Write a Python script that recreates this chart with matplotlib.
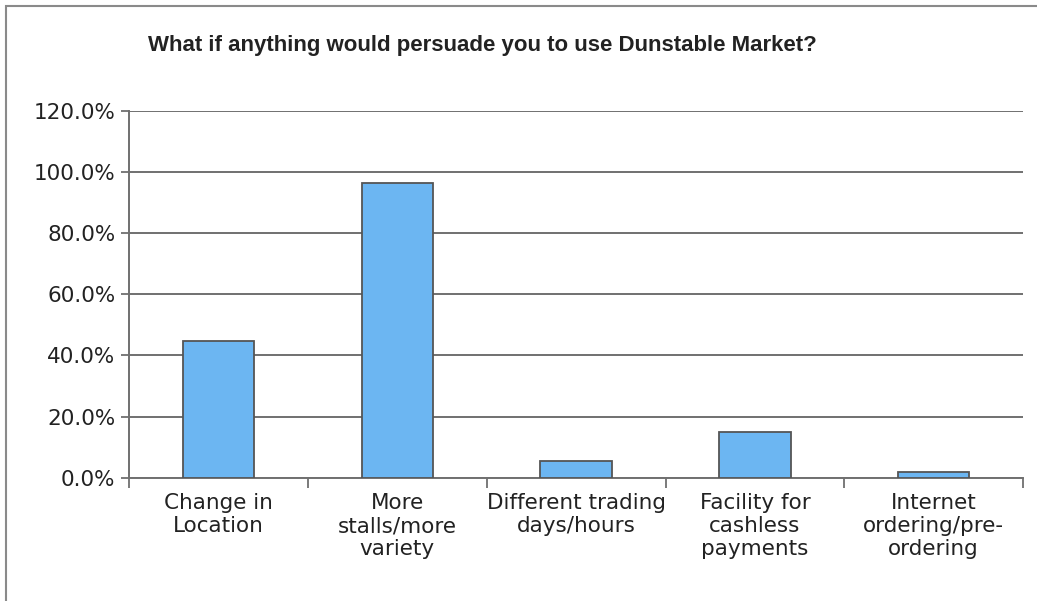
import matplotlib.pyplot as plt
from matplotlib.patches import Rectangle
from matplotlib.ticker import FuncFormatter

categories = ["Change in\nLocation", "More\nstalls/more\nvariety", "Different trading\ndays/hours",
              "Facility for\ncashless\npayments", "Internet\nordering/pre-\nordering"]
values = [44.7, 96.2, 5.5, 14.8, 1.9]
yticks = [0, 20, 40, 60, 80, 100, 120]
title = "What if anything would persuade you to use Dunstable Market?"

fig = plt.figure(figsize=(10.37, 6.01), dpi=100)
fig.patch.set_facecolor("white")
# outer frame of the chart area
fig.add_artist(Rectangle((0.006, -0.01), 1.2, 1.0, transform=fig.transFigure,
                         fill=False, edgecolor="#8a8a8a", linewidth=1.5))

ax = fig.add_axes([0.1247, 0.2051, 0.8618, 0.611])
x = list(range(len(values)))
ax.bar(x, values, width=0.4, color="#6cb6f2", edgecolor="#555555", linewidth=1.3, zorder=3)

ax.set_xlim(-0.5, len(values) - 0.5)
ax.set_ylim(0, 120)
ax.set_yticks(yticks)
ax.yaxis.set_major_formatter(FuncFormatter(lambda v, p: f"{v:.1f}%"))
ax.grid(axis="y", color="#707070", linewidth=1.4, zorder=0)

ax.set_xticks(x)
ax.set_xticklabels(categories, fontsize=15.5, color="#222222", linespacing=1.2)
ax.set_xticks([i - 0.5 for i in range(len(values) + 1)], minor=True)
ax.tick_params(axis="x", which="major", length=0, pad=11)
ax.tick_params(axis="x", which="minor", length=7, width=1.3, color="#707070")
ax.tick_params(axis="y", length=6, width=1.3, color="#707070", labelsize=15.5,
               labelcolor="#222222", pad=4)

for s in ["top", "right"]:
    ax.spines[s].set_visible(False)
for s in ["left", "bottom"]:
    ax.spines[s].set_color("#707070")
    ax.spines[s].set_linewidth(1.4)

fig.text(0.143, 0.925, title, fontsize=16, fontweight="bold", family="Liberation Sans",
         color="#222222", va="center", ha="left")

fig.savefig("out.png", dpi=100, facecolor="white")
